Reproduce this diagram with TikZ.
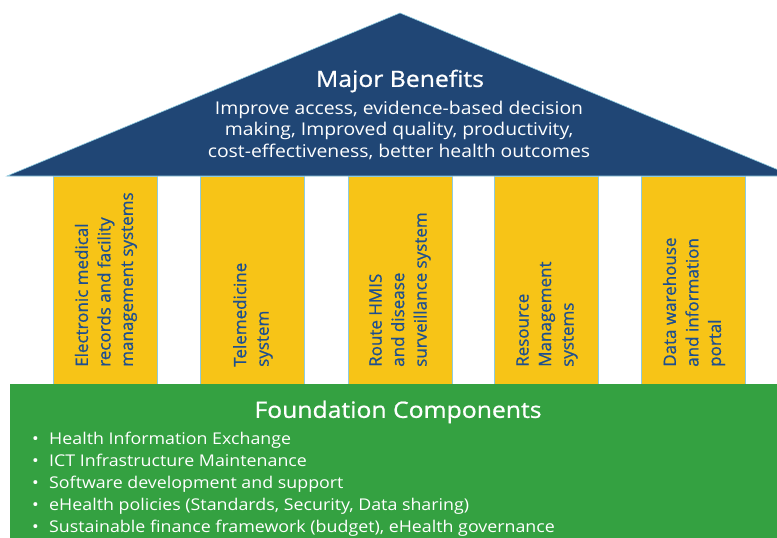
\documentclass[tikz,border=0pt]{standalone}
\usepackage{fontspec}
\setmainfont{Open Sans}
\newfontfamily\widefont[FakeStretch=1.1]{Open Sans}
\newfontfamily\widemed[FakeStretch=1.1,FakeBold=0.8]{Open Sans}
\newfontfamily\pillarfont[FakeBold=0.8]{Open Sans}
\definecolor{navy}{HTML}{204675}
\definecolor{pillar}{HTML}{F7C417}
\definecolor{base}{HTML}{34A141}
\definecolor{ptext}{HTML}{1E4F8F}
\definecolor{edge}{HTML}{8DCBE0}
\tikzset{
  pillarbox/.style={fill=pillar, draw=edge, line width=0.6pt, minimum width=104pt, minimum height=208pt, anchor=north west, inner sep=0pt},
  pillartext/.style={rotate=90, anchor=west, align=left, text=ptext, font=\pillarfont\fontsize{17}{22.5}\selectfont, inner sep=0pt},
  headtext/.style={text=white, font=\widemed\fontsize{22.5}{26}\selectfont},
}
\begin{document}
\begin{tikzpicture}[x=1pt,y=-1pt]
\useasboundingbox (0,0) rectangle (777,538);
\clip (0,0) rectangle (777,538);
% roof
\fill[navy, draw=edge, line width=0.6pt] (7,176) -- (400,13) -- (793,176) -- cycle;
\node[headtext] (title) at (400,81) {Major Benefits};
\node[text=white, align=center, font=\widefont\fontsize{17.6}{21.5}\selectfont] (benefits) at (399,130)
  {Improve access, evidence-based decision\\making, Improved quality, productivity,\\cost-effectiveness, better health outcomes};
% pillars
\node[pillarbox] (p1) at (53,176) {};
\node[pillarbox] (p2) at (200,176) {};
\node[pillarbox] (p3) at (348,176) {};
\node[pillarbox] (p4) at (494,176) {};
\node[pillarbox] (p5) at (641,176) {};
\node[pillartext] (t1) at (106,367) {Electronic medical\\records and facility\\management systems};
\node[pillartext] (t2) at (253,367) {Telemedicine\\system};
\node[pillartext] (t3) at (400,367) {Route HMIS\\and disease\\surveillance system};
\node[pillartext] (t4) at (547,367) {Resource\\Management\\systems};
\node[pillartext] (t5) at (694,367) {Data warehouse\\and information\\portal};
% base
\fill[base] (10,384) rectangle (790,545);
\node[headtext] (found) at (398,412) {Foundation Components};
\node[text=white, align=left, anchor=north west, inner sep=0pt, font=\widefont\fontsize{16.2}{22}\selectfont] (items) at (29,432)
  {\makebox[20pt][l]{\hspace{3pt}•}Health Information Exchange\\
   \makebox[20pt][l]{\hspace{3pt}•}ICT Infrastructure Maintenance\\
   \makebox[20pt][l]{\hspace{3pt}•}Software development and support\\
   \makebox[20pt][l]{\hspace{3pt}•}eHealth policies (Standards, Security, Data sharing)\\
   \makebox[20pt][l]{\hspace{3pt}•}Sustainable finance framework (budget), eHealth governance};
\end{tikzpicture}
\end{document}
